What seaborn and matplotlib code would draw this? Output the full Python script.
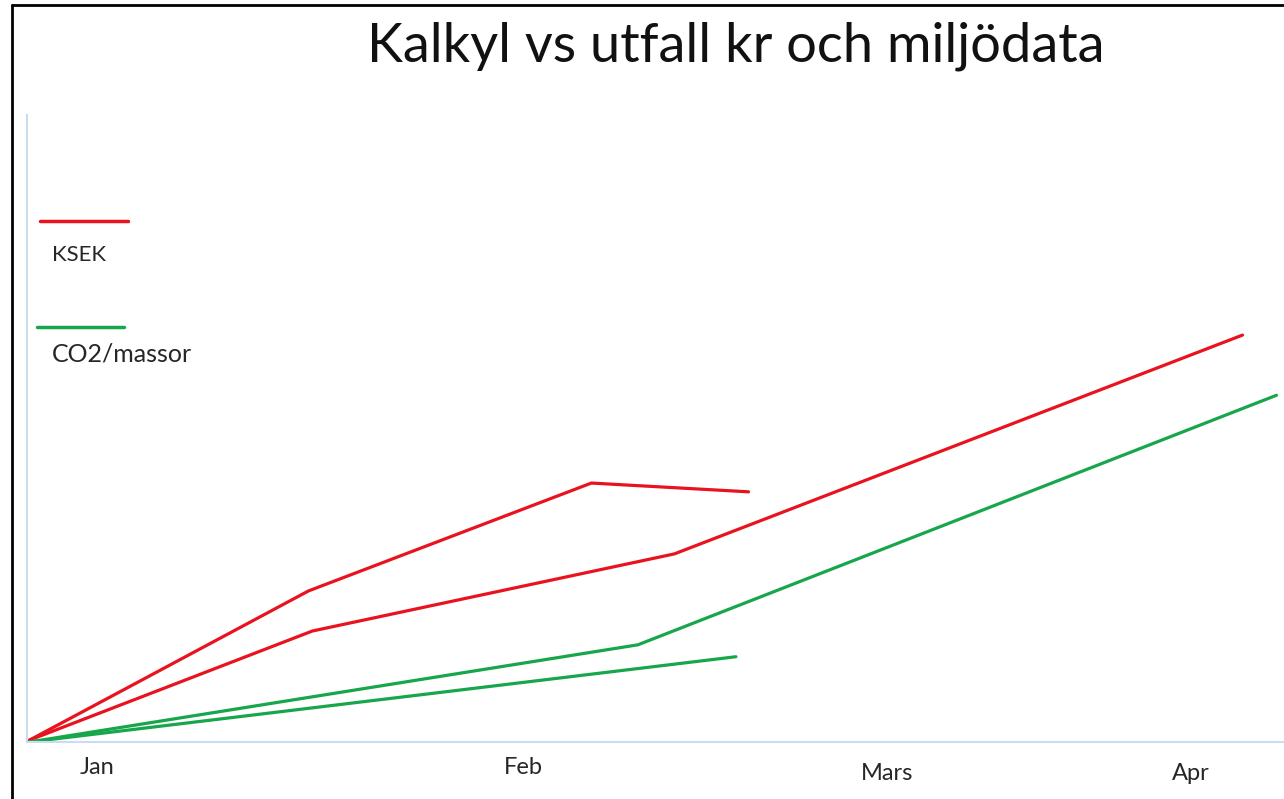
import matplotlib
matplotlib.use("Agg")
import matplotlib.pyplot as plt
from matplotlib.lines import Line2D
from matplotlib.transforms import offset_copy
import seaborn as sns
import pandas as pd

# Series values (x = position along the period, y = cumulative amount)
ksek_kalkyl_x = [0.2, 22.4, 44.9, 57.4]
ksek_kalkyl_y = [0.3, 24.1, 41.3, 39.9]
ksek_utfall_x = [0.2, 22.7, 51.5, 96.7]
ksek_utfall_y = [0.3, 17.7, 30.0, 64.9]
co2_kalkyl_x = [0.2, 48.6, 99.4]
co2_kalkyl_y = [0.0, 15.5, 55.3]
co2_utfall_x = [0.2, 56.4]
co2_utfall_y = [0.0, 13.6]

month_labels = ["Jan", "Feb", "Mars", "Apr"]
month_pos = [5.6, 39.5, 68.4, 92.6]
month_dy = [0, 0, -5, -5]  # pixel shifts of the month labels

RED = "#e8131f"
GREEN = "#18a64c"
AXIS_BLUE = "#c9dcf0"

rows = []
for name, kind, xs, ys in [
    ("ksek_kalkyl", "KSEK", ksek_kalkyl_x, ksek_kalkyl_y),
    ("ksek_utfall", "KSEK", ksek_utfall_x, ksek_utfall_y),
    ("co2_kalkyl", "CO2/massor", co2_kalkyl_x, co2_kalkyl_y),
    ("co2_utfall", "CO2/massor", co2_utfall_x, co2_utfall_y),
]:
    for x, y in zip(xs, ys):
        rows.append({"serie": name, "typ": kind, "x": x, "y": y})
df = pd.DataFrame(rows)

sns.set_theme(style="white")
plt.rcParams["font.family"] = ["Lato", "DejaVu Sans"]

W, H = 1284, 799
fig = plt.figure(figsize=(W / 100, H / 100), dpi=100)
ax = fig.add_axes([27 / W, (H - 742) / H, 1 - 27 / W, (742 - 115) / H])

sns.lineplot(data=df, x="x", y="y", hue="typ", units="serie", estimator=None,
             sort=False, palette={"KSEK": RED, "CO2/massor": GREEN},
             linewidth=2.3, legend=False, ax=ax)

ax.set_xlim(0, 100)
ax.set_ylim(0, 100)
ax.set_xlabel("")
ax.set_ylabel("")
ax.set_xticks([])
ax.set_yticks([])
for s in ["top", "right"]:
    ax.spines[s].set_visible(False)
for s in ["left", "bottom"]:
    ax.spines[s].set_color(AXIS_BLUE)
    ax.spines[s].set_linewidth(1.5)
ax.patch.set_alpha(0)

for lab, pos, dy in zip(month_labels, month_pos, month_dy):
    tr = offset_copy(ax.get_xaxis_transform(), fig=fig, x=0, y=dy, units="dots")
    ax.text(pos, -26 / 627, lab, transform=tr, ha="center", va="center",
            fontsize=17, color="#262626")

# Legend: short line with its label below
for y_line, y_text, x0, x1, col, lab, fs in [
    (221, 255, 40, 128, RED, "KSEK", 16),
    (327, 354, 37, 124, GREEN, "CO2/massor", 18),
]:
    fig.add_artist(Line2D([x0 / W, x1 / W], [1 - y_line / H, 1 - y_line / H],
                          color=col, linewidth=2.5, transform=fig.transFigure))
    fig.text(52 / W, 1 - y_text / H, lab, ha="left", va="center",
             fontsize=fs, color="#262626")

fig.text(736 / W, 1 - 46 / H, "Kalkyl vs utfall kr och miljödata",
         ha="center", va="center", fontsize=39, color="#111111")

# Slide frame on the left and top edges
fig.add_artist(Line2D([12 / W, 12 / W], [0, 1 - 5 / H], color="black",
                      linewidth=2, transform=fig.transFigure))
fig.add_artist(Line2D([12 / W, 1], [1 - 5 / H, 1 - 5 / H], color="black",
                      linewidth=2, transform=fig.transFigure))

fig.savefig("out.png", dpi=100, facecolor="white")
